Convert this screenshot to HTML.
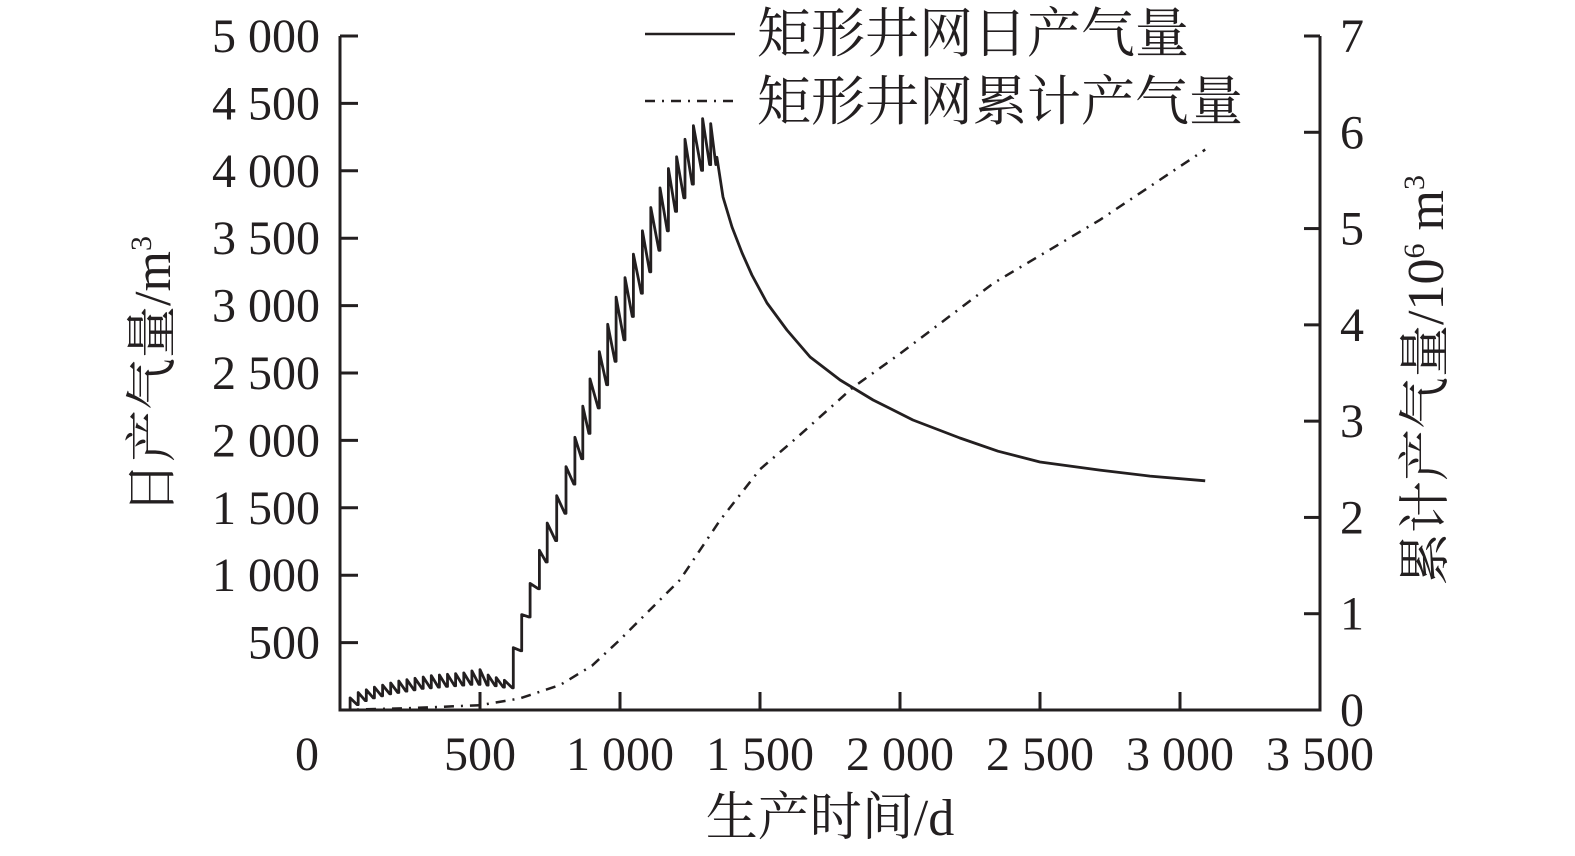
<!DOCTYPE html>
<html><head><meta charset="utf-8"><style>
html,body{margin:0;padding:0;background:#fff;}
svg{display:block;}
text{font-family:"Liberation Serif","Noto Serif CJK SC","Noto Sans CJK SC",serif;fill:#231f20;}
</style></head><body>
<svg id="chart" width="1575" height="856" viewBox="0 0 1575 856" xmlns="http://www.w3.org/2000/svg">
<g id="axes"></g>
<g id="marks"></g>
<g>
  <line x1="645" y1="34" x2="735" y2="34" stroke="#231f20" stroke-width="2.5"/>
  <text x="757" y="52" font-size="54">矩形井网日产气量</text>
  <line x1="645" y1="101" x2="735" y2="101" stroke="#231f20" stroke-width="2.5" stroke-dasharray="10 7 2 7"/>
  <text x="757" y="120" font-size="54">矩形井网累计产气量</text>
</g>
<text transform="translate(170,375) rotate(-90)" text-anchor="middle" font-size="52">日产气量/m<tspan font-size="30" dy="-19">3</tspan></text>
<text transform="translate(1443,380) rotate(-90)" text-anchor="middle" font-size="52">累计产气量/10<tspan font-size="30" dy="-19">6</tspan><tspan dy="19"> m</tspan><tspan font-size="30" dy="-19">3</tspan></text>
<text x="830" y="835" text-anchor="middle" font-size="52">生产时间/d</text>
</svg>
<script>
// x ticks / y ticks
const xTicks = [0,500,1000,1500,2000,2500,3000,3500];
const xTickLabels = ["0","500","1 000","1 500","2 000","2 500","3 000","3 500"];
const yTicks = [500,1000,1500,2000,2500,3000,3500,4000,4500,5000];
const yTickLabels = ["500","1 000","1 500","2 000","2 500","3 000","3 500","4 000","4 500","5 000"];
const y2Ticks = [0,1,2,3,4,5,6,7];
const y2TickLabels = ["0","1","2","3","4","5","6","7"];
// early sawtooth
const earlyDays = [36,65,94,123,152,181,210,239,268,297,326,355,384,413,442,471,500,529,558,587];
const earlyPeaks = [90,130,150,170,185,200,215,225,235,245,255,260,265,270,275,290,300,260,240,220];
const earlyTroughs = [40,70,90,105,120,130,140,150,160,165,170,175,180,185,190,190,185,180,170,165];
// ramp-up sawtooth
const rampDays = [619,649,679,712,740,774,807,839,867,893,926,956,986,1018,1048,1080,1110,1143,1173,1202,1232,1262,1295,1324];
const rampPeaks = [462,708,939,1185,1387,1590,1806,2023,2254,2456,2659,2861,3063,3208,3381,3555,3728,3873,4017,4104,4234,4335,4387,4350];
const rampTroughs = [440,690,900,1098,1257,1459,1676,1864,2052,2240,2413,2587,2746,2919,3092,3251,3410,3555,3699,3800,3901,4003,4046,4046];
// decline
const declineDays = [1346,1368,1400,1436,1471,1525,1596,1679,1786,1904,2046,2214,2350,2500,2714,2893,3090];
const declineValues = [4100,3806,3583,3390,3227,3019,2819,2619,2448,2300,2151,2018,1920,1840,1780,1735,1700];
// cumulative
const cumDays = [0,250,500,643,786,900,1000,1100,1214,1357,1500,1632,1832,2000,2332,2714,3090];
const cumValues = [0,0.02,0.05,0.12,0.26,0.46,0.73,1.02,1.35,1.97,2.5,2.83,3.35,3.7,4.43,5.09,5.82];

const X0=340,X1=1320,Y0=710,YT=36;
const xs=d=>X0+(d/3500)*(X1-X0);
const ys=v=>Y0-(v/5000)*(Y0-YT);
const ys2=v=>Y0-(v/7)*(Y0-YT);
const NS="http://www.w3.org/2000/svg";
const axes=document.getElementById('axes'), marks=document.getElementById('marks');
function mk(tag,attrs,parent,txt){const e=document.createElementNS(NS,tag);for(const k in attrs)e.setAttribute(k,attrs[k]);if(txt!==undefined)e.textContent=txt;parent.appendChild(e);return e;}

let e;
e=mk('path',{d:`M${X0},${YT} V${Y0} H${X1} V${YT}`,fill:'none',stroke:'#231f20','stroke-width':3},axes);


xTicks.forEach((t,i)=>{
  if(i>0&&i<xTicks.length-1){e=mk('line',{x1:xs(t),x2:xs(t),y1:Y0,y2:Y0-18,stroke:'#231f20','stroke-width':3},axes);
  
  }
  const tx = i===0 ? 307 : xs(t);
  e=mk('text',{x:tx,y:770,'text-anchor':'middle','font-size':48},axes,xTickLabels[i]);
  
  
});
yTicks.forEach((t,i)=>{
  e=mk('line',{x1:X0,x2:X0+18,y1:ys(t),y2:ys(t),stroke:'#231f20','stroke-width':3},axes);
  
  
  e=mk('text',{x:320,y:ys(t)+16,'text-anchor':'end','font-size':48},axes,yTickLabels[i]);
  
  
});
y2Ticks.forEach((t,i)=>{
  e=mk('line',{x1:X1,x2:X1-16,y1:ys2(t),y2:ys2(t),stroke:'#231f20','stroke-width':3},axes);
  
  
  e=mk('text',{x:1340,y:ys2(t)+16,'font-size':48},axes,y2TickLabels[i]);
  
  
});

// daily line
const pts=[[10,0]];
let prev=0;
earlyDays.forEach((d,i)=>{pts.push([d,prev]);pts.push([d,earlyPeaks[i]]);const nd=(i<earlyDays.length-1?earlyDays[i+1]:rampDays[0]);pts.push([nd-4,earlyTroughs[i]]);prev=earlyTroughs[i];});
rampDays.forEach((d,i)=>{pts.push([d,prev]);pts.push([d,rampPeaks[i]]);const nd=(i<rampDays.length-1?rampDays[i+1]:declineDays[0]);pts.push([nd-4,rampTroughs[i]]);prev=rampTroughs[i];});
declineDays.forEach((d,i)=>pts.push([d,declineValues[i]]));
e=mk('path',{d:'M'+pts.map(p=>xs(p[0]).toFixed(1)+','+ys(p[1]).toFixed(1)).join(' L'),fill:'none',stroke:'#231f20','stroke-width':2.8,'stroke-linejoin':'round'},marks);


e=mk('path',{d:'M'+cumDays.map((d,i)=>xs(d).toFixed(1)+','+ys2(cumValues[i]).toFixed(1)).join(' L'),fill:'none',stroke:'#231f20','stroke-width':2.5,'stroke-dasharray':'10 7 2 7'},marks);


</script>
</body></html>
